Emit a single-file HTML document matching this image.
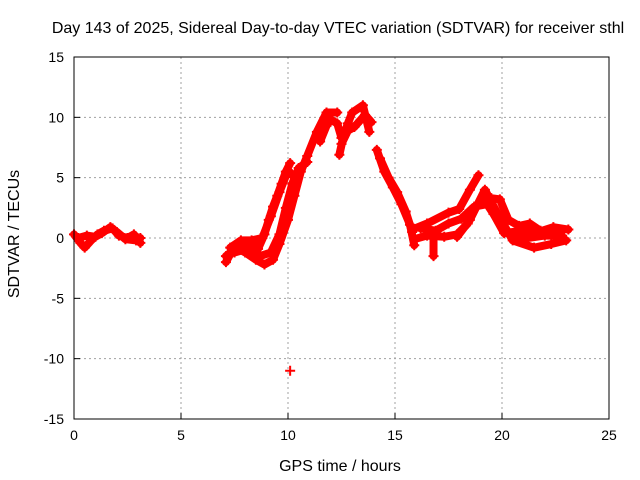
<!DOCTYPE html>
<html><head><meta charset="utf-8"><style>
body{margin:0;background:#fff}
svg{display:block;font-family:"Liberation Sans",sans-serif}
</style></head><body>
<svg id="chart" width="640" height="480" viewBox="0 0 640 480">
<rect width="640" height="480" fill="#fff"/>
<text x="338" y="33" text-anchor="middle" font-size="16">Day 143 of 2025, Sidereal Day-to-day VTEC variation (SDTVAR) for receiver sthl</text>
<g id="grid"></g>
<g id="axes"></g>
<g id="marks"></g>
<rect x="74" y="57" width="535" height="362" fill="none" stroke="#000" stroke-width="1"/>
<text x="340" y="471" text-anchor="middle" font-size="16">GPS time / hours</text>
<text transform="translate(19,234) rotate(-90)" text-anchor="middle" font-size="16">SDTVAR / TECUs</text>
</svg>
<script>
const xTicks=[0,5,10,15,20,25];
const yTicks=[-15,-10,-5,0,5,10,15];
const traceEarly1=[[0,0.3],[0.3,-0.4],[0.5,-0.8],[0.8,-0.2],[1.1,0.3],[1.4,0.6],[1.8,0.8],[2.1,0.2],[2.5,0.0],[2.8,0.3],[3.1,-0.4]];
const traceEarly2=[[0.2,0.0],[0.6,0.2],[1.0,0.1],[1.3,0.4],[1.7,0.9],[2.0,0.5],[2.4,-0.1],[2.9,-0.2],[3.1,0.0]];
const traceRise1=[[7.1,-2],[7.4,-1],[7.7,-0.5],[8.0,-0.3],[8.3,-0.6],[8.6,-0.9],[8.9,0.3],[9.1,1.5],[9.3,2.6],[9.5,3.5],[9.7,4.5],[9.9,5.5],[10.1,6.2]];
const traceRise1b=[[7.3,-0.8],[7.8,-0.2],[8.3,-0.2],[8.8,0.0],[9.2,1.8],[9.6,3.8],[10.0,5.6],[10.2,5.2]];
const traceRise2=[[7.1,-1.5],[7.6,-0.8],[8.0,-1.2],[8.5,-1.8],[8.9,-2.2],[9.3,-1.8],[9.6,-0.5],[10,1.5],[10.3,3.5],[10.6,5.5],[10.9,6.8],[11.35,8.8],[11.8,10.4],[12.3,10.4]];
const traceRise2b=[[7.5,-1.2],[8.1,-0.9],[8.7,-1.5],[9.2,-1.2],[9.6,0.3],[9.9,2.5],[10.2,4.5],[10.5,5.8],[10.9,6.3]];
const traceCluster1=[[11.5,8.0],[11.8,9.3],[12.0,9.8],[12.3,9.5],[12.5,8.3]];
const tracePeak=[[12.4,6.9],[12.6,8.5],[12.8,9.5],[13.0,10.4],[13.5,11.0],[13.8,8.8]];
const tracePeak2=[[12.5,7.8],[12.8,8.9],[13.1,9.2],[13.4,9.8],[13.6,10.2],[13.9,9.6]];
const traceFall=[[14.15,7.3],[14.5,5.5],[14.9,4.2],[15.3,2.8],[15.7,1.1],[15.9,-0.6]];
const traceFall2=[[14.3,6.6],[14.7,5.0],[15.1,3.8],[15.5,2.2],[15.8,0.5]];
const traceLate1=[[15.8,0.7],[16.5,1.2],[17.5,2.1],[18.0,2.4],[18.5,4.0],[18.9,5.2]];
const traceLate2=[[17.9,0.1],[18.5,1.5],[19.2,4.0],[19.8,2.0],[20.5,-0.2],[21.5,-0.8],[22.3,-0.5],[23.0,-0.2]];
const traceLate3=[[19.2,3.2],[19.6,2.0],[20.1,0.4],[20.9,0.6],[21.7,0.5],[22.4,0.9],[23.1,0.7]];
const traceLate4=[[15.9,-0.1],[16.5,0.2],[17.3,0.1],[17.9,0.3],[18.4,1.2]];
const traceLate5=[[16.2,0.8],[16.9,0.6],[17.5,1.2],[18.1,1.6],[18.7,2.6],[19.3,2.8],[19.9,1.2],[20.4,0.3],[21.2,0.0],[22.0,0.2],[22.8,0.2]];
const traceLate6=[[19.5,3.3],[19.9,3.2],[20.3,1.5],[20.8,1.0],[21.3,1.2],[21.8,0.6],[22.5,0.4]];
const traceSpike=[[16.8,0.5],[16.8,-1.5]];
const outlier=[[10.1,-11]];
const traces=[traceEarly1,traceEarly2,traceRise1,traceRise1b,traceRise2,traceRise2b,traceCluster1,tracePeak,tracePeak2,traceFall,traceFall2,traceLate1,traceLate2,traceLate3,traceLate4,traceLate5,traceLate6,traceSpike,outlier];

const X0=74,X1=609,Y0=419,Y1=57;
const sx=t=>X0+(t-0)/(25-0)*(X1-X0);
const sy=v=>Y0-(v+15)/30*(Y0-Y1);
const NS='http://www.w3.org/2000/svg';
const grid=document.getElementById('grid'),axes=document.getElementById('axes'),marks=document.getElementById('marks');
function mk(tag,attrs,parent){const e=document.createElementNS(NS,tag);for(const k in attrs)e.setAttribute(k,attrs[k]);parent.appendChild(e);return e;}
xTicks.forEach(t=>{
  const x=sx(t);
  if(t>0&&t<25){const g=mk('line',{x1:x,x2:x,y1:Y1,y2:Y0,stroke:'#a0a0a0','stroke-dasharray':'2,3'},grid);
  
  }
  const tk=mk('line',{x1:x,x2:x,y1:Y0,y2:Y0-6,stroke:'#000'},axes);
  
  
  const tx=mk('text',{x:x,y:Y0+21,'text-anchor':'middle','font-size':14},axes);
  tx.textContent=t;
  
  
});
yTicks.forEach(v=>{
  const y=sy(v);
  if(v>-15&&v<15){const g=mk('line',{x1:X0,x2:X1,y1:y,y2:y,stroke:'#a0a0a0','stroke-dasharray':'2,3'},grid);
  
  }
  const tk=mk('line',{x1:X0,x2:X0+6,y1:y,y2:y,stroke:'#000'},axes);
  
  
  const tx=mk('text',{x:X0-10,y:y+5,'text-anchor':'end','font-size':14},axes);
  tx.textContent=v;
  
  
});
traces.forEach(tr=>{
  if(tr.length>1){
    const pl=mk('polyline',{points:tr.map(p=>sx(p[0])+','+sy(p[1])).join(' '),fill:'none',stroke:'#f00','stroke-width':8,'stroke-linejoin':'round','stroke-linecap':'round'},marks);
    
    
  }
  tr.forEach(p=>{
    const x=sx(p[0]),y=sy(p[1]);
    const m=mk('path',{d:`M${x-5},${y}H${x+5}M${x},${y-5}V${y+5}`,stroke:'#f00','stroke-width':2},marks);
    
    
  });
});
</script>
</body></html>
